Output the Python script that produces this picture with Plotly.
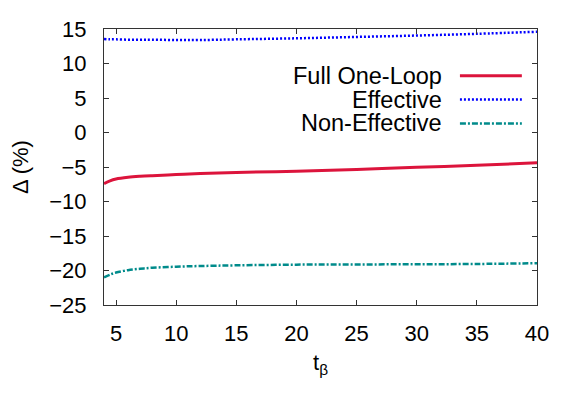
import plotly.graph_objects as go

# data
t_beta = [4, 4.5, 5, 6, 7, 8, 10, 12, 15, 20, 25, 30, 35, 40]
full_one_loop = [-7.4, -7.0, -6.75, -6.5, -6.35, -6.25, -6.1, -5.95, -5.8, -5.6, -5.35, -5.05, -4.75, -4.4]
effective = [13.55, 13.5, 13.5, 13.45, 13.45, 13.45, 13.4, 13.4, 13.5, 13.65, 13.85, 14.05, 14.3, 14.6]
non_effective = [-21.0, -20.6, -20.3, -19.95, -19.75, -19.6, -19.45, -19.35, -19.25, -19.15, -19.12, -19.1, -19.05, -18.95]

series = [
    ('Full One-Loop', full_one_loop, dict(color='#dc143c', width=3, dash='solid')),
    ('Effective', effective, dict(color='#0000ff', width=2.5, dash='2px,2px')),
    ('Non-Effective', non_effective, dict(color='#008b8b', width=2.5, dash='6px,2px,2px,2px')),
]

fig = go.Figure()
for name, ys, line in series:
    fig.add_trace(go.Scatter(x=t_beta, y=ys, mode='lines', name=name, line=line,
                             line_shape='spline', showlegend=False))

font = dict(family='Liberation Sans, Arial, sans-serif', size=22, color='black')
key_font = dict(font, size=23.5)

# gnuplot-style key: right aligned text, line sample on the right
for i, (name, ys, line) in enumerate(series):
    yp = 0.831 - i * 0.0865
    fig.add_annotation(xref='paper', yref='paper', x=0.786, y=yp, text=name,
                       showarrow=False, xanchor='right', yanchor='middle', font=key_font)
    fig.add_shape(type='line', xref='paper', yref='paper', x0=0.822, x1=0.965,
                  y0=yp, y1=yp, line=line)

axis = dict(showgrid=False, zeroline=False, showline=True, linecolor='#333333',
            linewidth=1.2, mirror='ticks', ticks='inside', ticklen=5,
            tickcolor='#333333', tickfont=font, automargin=False)

# page body adds an 8px offset, so the figure is 8px smaller and margins shifted
fig.update_layout(
    width=573, height=399,
    margin=dict(l=96, r=44, t=21, b=102),
    plot_bgcolor='white', paper_bgcolor='white',
    xaxis=dict(axis, range=[4, 40], tickvals=[5, 10, 15, 20, 25, 30, 35, 40],
               ticklabelstandoff=8,
               title=dict(text='t<sub>β</sub>', font=font, standoff=10)),
    yaxis=dict(axis, range=[-25, 15], tickvals=list(range(-25, 16, 5)),
               ticklabelstandoff=12,
               title=dict(text='Δ (%)', font=font, standoff=14)),
)

fig.write_html("out.html")
